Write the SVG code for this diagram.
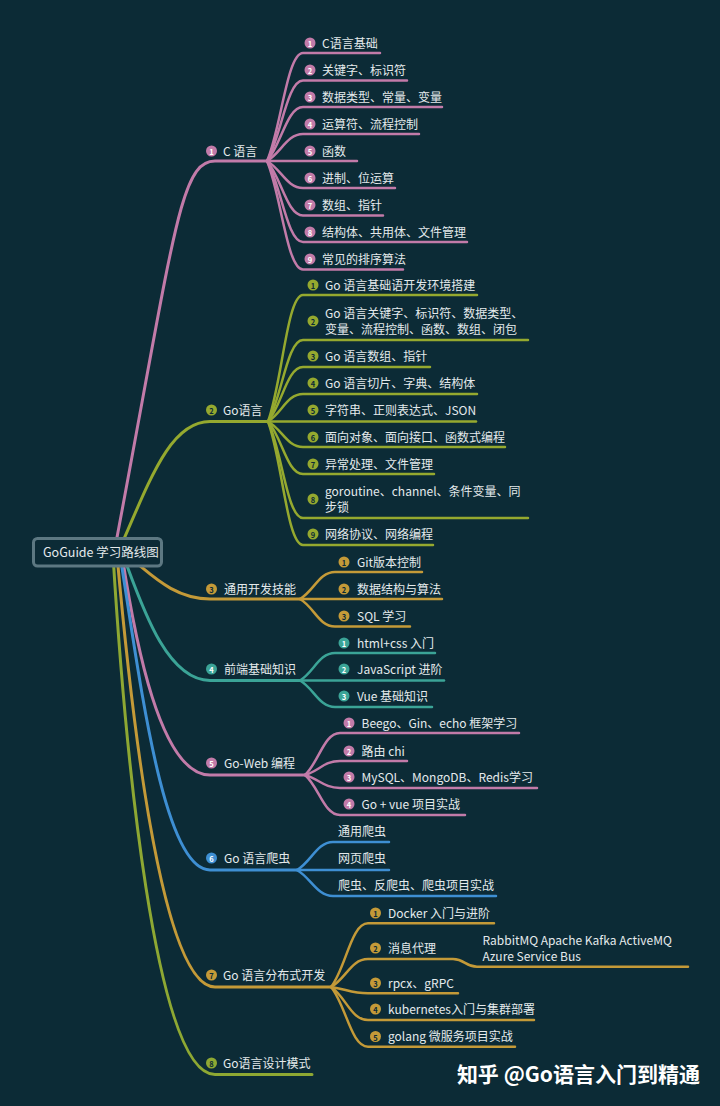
<svg xmlns="http://www.w3.org/2000/svg" width="720" height="1106" viewBox="0 0 720 1106">
<style>
text{font-family:"Noto Sans CJK SC","Noto Sans",sans-serif;fill:#e4eaec;dominant-baseline:central}
.t{font-size:12px;transform:translateY(-1px)}
.b{font-size:7.5px;font-weight:bold;text-anchor:middle}
.bd{fill:#0c2b36}
.bw{fill:#ffffff}
.L{fill:none;stroke-width:3;stroke-linecap:round}
.l{fill:none;stroke-width:2.5;stroke-linecap:round}
.pk{stroke:#c27ba9}.gr{stroke:#95a92f}.go{stroke:#c49a38}.te{stroke:#3ba497}.bl{stroke:#3e8fd3}.yg{stroke:#8ea833}
.fpk{fill:#c27ba9}.fgr{fill:#95a92f}.fgo{fill:#c49a38}.fte{fill:#3ba497}.fbl{fill:#3e8fd3}.fyg{fill:#8ea833}
</style>
<rect width="720" height="1106" fill="#0c2b36"/>
<g id="connectors">
<path class="L pk" d="M115,548 C175,230 180,161 215,161 L267,161"/>
<path class="L gr" d="M120,548 C150,480 170,421.5 210,421.5 L268,421.5"/>
<path class="L go" d="M120,552 C140,560 165,599 210,599 L300,599"/>
<path class="L te" d="M123,555 C140,600 165,680.5 210,680.5 L300,680.5"/>
<path class="L pk" d="M122,555 C135,640 160,775 210,775 L305,775"/>
<path class="L bl" d="M120,555 C140,680 163,870 210,870 L297,870"/>
<path class="L go" d="M117,555 C130,700 160,987 215,987 L331,987"/>
<path class="L yg" d="M113,555 C125,750 155,1074.5 215,1074.5 L312,1074.5"/>
<g class="pk">
<path class="l" d="M267,161 C281,129 287,53 303,53 L380,53"/>
<path class="l" d="M267,161 C281,137 287,80.5 303,80.5 L407,80.5"/>
<path class="l" d="M267,161 C281,145 287,107 303,107 L442,107"/>
<path class="l" d="M267,161 C281,153 287,134 303,134 L419,134"/>
<path class="l" d="M267,161 L357,161"/>
<path class="l" d="M267,161 C281,169 287,188 303,188 L395,188"/>
<path class="l" d="M267,161 C281,177 287,215.5 303,215.5 L383,215.5"/>
<path class="l" d="M267,161 C281,185 287,242 303,242 L467,242"/>
<path class="l" d="M267,161 C281,194 287,269.5 303,269.5 L403,269.5"/>
</g>
<g class="gr">
<path class="l" d="M268,421.5 C282,383.5 287,295 303,295 L477,295"/>
<path class="l" d="M268,421.5 C282,397 287,340 303,340 L528,340"/>
<path class="l" d="M268,421.5 C282,405 287,367 303,367 L430,367"/>
<path class="l" d="M268,421.5 C282,413 287,394 303,394 L477,394"/>
<path class="l" d="M268,421.5 L476,421.5"/>
<path class="l" d="M268,421.5 C282,429 287,447 303,447 L505,447"/>
<path class="l" d="M268,421.5 C282,437 287,474 303,474 L434,474"/>
<path class="l" d="M268,421.5 C282,450.5 287,518 303,518 L528,518"/>
<path class="l" d="M268,421.5 C282,458.5 287,545 303,545 L433,545"/>
</g>
<g class="go">
<path class="l" d="M300,599 C314,591 319,572 335,572 L422,572"/>
<path class="l" d="M300,599 L442,599"/>
<path class="l" d="M300,599 C314,607 319,626.5 335,626.5 L410,626.5"/>
</g>
<g class="te">
<path class="l" d="M300,680.5 C314,672 319,653 335,653 L435,653"/>
<path class="l" d="M300,680.5 L444,680.5"/>
<path class="l" d="M300,680.5 C314,688.5 319,707 335,707 L432,707"/>
</g>
<g class="pk">
<path class="l" d="M305,775 C319,762 324,733 340,733 L519,733"/>
<path class="l" d="M305,775 C319,771 324,761 340,761 L407,761"/>
<path class="l" d="M305,775 C319,779 324,788 340,788 L537,788"/>
<path class="l" d="M305,775 C319,787 324,815 340,815 L465,815"/>
</g>
<g class="bl">
<path class="l" d="M297,870 C311,862 317,842 333,842 L389,842"/>
<path class="l" d="M297,870 L389,870"/>
<path class="l" d="M297,870 C311,878 317,896 333,896 L496,896"/>
</g>
<g class="go">
<path class="l" d="M331,987 C346,968 351,923.3 368,923.3 L494,923.3"/>
<path class="l" d="M331,987 C346,978.6 351,959 368,959 L453,959 C465,959 465,966.7 477,966.7 L688,966.7"/>
<path class="l" d="M331,987 C346,989 351,993.3 368,993.3 L458,993.3"/>
<path class="l" d="M331,987 C346,997 351,1020 368,1020 L534,1020"/>
<path class="l" d="M331,987 C346,1005 351,1046.7 368,1046.7 L515,1046.7"/>
</g>
</g>
<g id="root">
<rect x="33.5" y="538.5" width="128" height="27.5" rx="4" fill="#0c2b36" stroke="#5d7882" stroke-width="3"/>
<text class="t" x="43" y="552.5" style="font-size:12.5px">GoGuide 学习路线图</text>
</g>
<g id="n1"><circle class="fpk" cx="211.5" cy="151" r="5.5"/><text class="b bw" x="211.5" y="151.5">1</text><text class="t" x="223" y="151">C 语言</text></g>
<g id="n1-1"><circle class="fpk" cx="310" cy="43" r="5.5"/><text class="b bw" x="310" y="43.5">1</text><text class="t" x="322" y="43">C语言基础</text></g>
<g id="n1-2"><circle class="fpk" cx="310" cy="70" r="5.5"/><text class="b bw" x="310" y="70.5">2</text><text class="t" x="322" y="70">关键字、标识符</text></g>
<g id="n1-3"><circle class="fpk" cx="310" cy="97" r="5.5"/><text class="b bw" x="310" y="97.5">3</text><text class="t" x="322" y="97">数据类型、常量、变量</text></g>
<g id="n1-4"><circle class="fpk" cx="310" cy="124" r="5.5"/><text class="b bw" x="310" y="124.5">4</text><text class="t" x="322" y="124">运算符、流程控制</text></g>
<g id="n1-5"><circle class="fpk" cx="310" cy="151" r="5.5"/><text class="b bw" x="310" y="151.5">5</text><text class="t" x="322" y="151">函数</text></g>
<g id="n1-6"><circle class="fpk" cx="310" cy="178" r="5.5"/><text class="b bw" x="310" y="178.5">6</text><text class="t" x="322" y="178">进制、位运算</text></g>
<g id="n1-7"><circle class="fpk" cx="310" cy="205" r="5.5"/><text class="b bw" x="310" y="205.5">7</text><text class="t" x="322" y="205">数组、指针</text></g>
<g id="n1-8"><circle class="fpk" cx="310" cy="232" r="5.5"/><text class="b bw" x="310" y="232.5">8</text><text class="t" x="322" y="232">结构体、共用体、文件管理</text></g>
<g id="n1-9"><circle class="fpk" cx="310" cy="259" r="5.5"/><text class="b bw" x="310" y="259.5">9</text><text class="t" x="322" y="259">常见的排序算法</text></g>
<g id="n2"><circle class="fgr" cx="211.5" cy="410" r="5.5"/><text class="b bd" x="211.5" y="410.5">2</text><text class="t" x="223" y="410">Go语言</text></g>
<g id="n2-1"><circle class="fgr" cx="313" cy="285" r="5.5"/><text class="b bd" x="313" y="285.5">1</text><text class="t" x="325" y="285">Go 语言基础语开发环境搭建</text></g>
<g id="n2-2"><circle class="fgr" cx="313" cy="321" r="5.5"/><text class="b bd" x="313" y="321.5">2</text><text class="t" x="325" y="313">Go 语言关键字、标识符、数据类型、</text><text class="t" x="325" y="329.5">变量、流程控制、函数、数组、闭包</text></g>
<g id="n2-3"><circle class="fgr" cx="313" cy="356" r="5.5"/><text class="b bd" x="313" y="356.5">3</text><text class="t" x="325" y="356">Go 语言数组、指针</text></g>
<g id="n2-4"><circle class="fgr" cx="313" cy="383" r="5.5"/><text class="b bd" x="313" y="383.5">4</text><text class="t" x="325" y="383">Go 语言切片、字典、结构体</text></g>
<g id="n2-5"><circle class="fgr" cx="313" cy="410" r="5.5"/><text class="b bd" x="313" y="410.5">5</text><text class="t" x="325" y="410">字符串、正则表达式、JSON</text></g>
<g id="n2-6"><circle class="fgr" cx="313" cy="437" r="5.5"/><text class="b bd" x="313" y="437.5">6</text><text class="t" x="325" y="437">面向对象、面向接口、函数式编程</text></g>
<g id="n2-7"><circle class="fgr" cx="313" cy="464" r="5.5"/><text class="b bd" x="313" y="464.5">7</text><text class="t" x="325" y="464">异常处理、文件管理</text></g>
<g id="n2-8"><circle class="fgr" cx="313" cy="499" r="5.5"/><text class="b bd" x="313" y="499.5">8</text><text class="t" x="325" y="491">goroutine、channel、条件变量、同</text><text class="t" x="325" y="507.5">步锁</text></g>
<g id="n2-9"><circle class="fgr" cx="313" cy="534" r="5.5"/><text class="b bd" x="313" y="534.5">9</text><text class="t" x="325" y="534">网络协议、网络编程</text></g>
<g id="n3"><circle class="fgo" cx="211.5" cy="589" r="5.5"/><text class="b bd" x="211.5" y="589.5">3</text><text class="t" x="224" y="589">通用开发技能</text></g>
<g id="n3-1"><circle class="fgo" cx="344" cy="562" r="5.5"/><text class="b bd" x="344" y="562.5">1</text><text class="t" x="357" y="562">Git版本控制</text></g>
<g id="n3-2"><circle class="fgo" cx="344" cy="589" r="5.5"/><text class="b bd" x="344" y="589.5">2</text><text class="t" x="357" y="589">数据结构与算法</text></g>
<g id="n3-3"><circle class="fgo" cx="344" cy="616" r="5.5"/><text class="b bd" x="344" y="616.5">3</text><text class="t" x="357" y="616">SQL 学习</text></g>
<g id="n4"><circle class="fte" cx="211.5" cy="669" r="5.5"/><text class="b bw" x="211.5" y="669.5">4</text><text class="t" x="224" y="669">前端基础知识</text></g>
<g id="n4-1"><circle class="fte" cx="344" cy="643" r="5.5"/><text class="b bw" x="344" y="643.5">1</text><text class="t" x="357" y="643">html+css 入门</text></g>
<g id="n4-2"><circle class="fte" cx="344" cy="669" r="5.5"/><text class="b bw" x="344" y="669.5">2</text><text class="t" x="357" y="669">JavaScript 进阶</text></g>
<g id="n4-3"><circle class="fte" cx="344" cy="696" r="5.5"/><text class="b bw" x="344" y="696.5">3</text><text class="t" x="357" y="696">Vue 基础知识</text></g>
<g id="n5"><circle class="fpk" cx="211.5" cy="763" r="5.5"/><text class="b bw" x="211.5" y="763.5">5</text><text class="t" x="224" y="763">Go-Web 编程</text></g>
<g id="n5-1"><circle class="fpk" cx="349" cy="723" r="5.5"/><text class="b bw" x="349" y="723.5">1</text><text class="t" x="361.5" y="723">Beego、Gin、echo 框架学习</text></g>
<g id="n5-2"><circle class="fpk" cx="349" cy="751" r="5.5"/><text class="b bw" x="349" y="751.5">2</text><text class="t" x="361.5" y="751">路由 chi</text></g>
<g id="n5-3"><circle class="fpk" cx="349" cy="777" r="5.5"/><text class="b bw" x="349" y="777.5">3</text><text class="t" x="361.5" y="777">MySQL、MongoDB、Redis学习</text></g>
<g id="n5-4"><circle class="fpk" cx="349" cy="804" r="5.5"/><text class="b bw" x="349" y="804.5">4</text><text class="t" x="361.5" y="804">Go + vue 项目实战</text></g>
<g id="n6"><circle class="fbl" cx="211.5" cy="858" r="5.5"/><text class="b bw" x="211.5" y="858.5">6</text><text class="t" x="224" y="858">Go 语言爬虫</text></g>
<g id="n6-1"><text class="t" x="338" y="831">通用爬虫</text></g>
<g id="n6-2"><text class="t" x="338" y="858">网页爬虫</text></g>
<g id="n6-3"><text class="t" x="338" y="885">爬虫、反爬虫、爬虫项目实战</text></g>
<g id="n7"><circle class="fgo" cx="211.5" cy="975" r="5.5"/><text class="b bd" x="211.5" y="975.5">7</text><text class="t" x="223" y="975">Go 语言分布式开发</text></g>
<g id="n7-1"><circle class="fgo" cx="375.5" cy="913" r="5.5"/><text class="b bd" x="375.5" y="913.5">1</text><text class="t" x="388" y="913">Docker 入门与进阶</text></g>
<g id="n7-2"><circle class="fgo" cx="375.5" cy="948" r="5.5"/><text class="b bd" x="375.5" y="948.5">2</text><text class="t" x="388" y="948">消息代理</text></g>
<g id="n7-2-1"><text class="t" x="482.5" y="940">RabbitMQ Apache Kafka ActiveMQ</text><text class="t" x="482.5" y="956">Azure Service Bus</text></g>
<g id="n7-3"><circle class="fgo" cx="375.5" cy="983" r="5.5"/><text class="b bd" x="375.5" y="983.5">3</text><text class="t" x="388" y="983">rpcx、gRPC</text></g>
<g id="n7-4"><circle class="fgo" cx="375.5" cy="1009" r="5.5"/><text class="b bd" x="375.5" y="1009.5">4</text><text class="t" x="388" y="1009">kubernetes入门与集群部署</text></g>
<g id="n7-5"><circle class="fgo" cx="375.5" cy="1036.5" r="5.5"/><text class="b bd" x="375.5" y="1037">5</text><text class="t" x="388" y="1036.5">golang 微服务项目实战</text></g>
<g id="n8"><circle class="fyg" cx="211.5" cy="1063" r="5.5"/><text class="b bd" x="211.5" y="1063.5">8</text><text class="t" x="223" y="1063">Go语言设计模式</text></g>
<g id="watermark"><text x="700" y="1073" style="font-size:21px;font-weight:bold;text-anchor:end;fill:#ffffff">知乎 @Go语言入门到精通</text></g>
</svg>
